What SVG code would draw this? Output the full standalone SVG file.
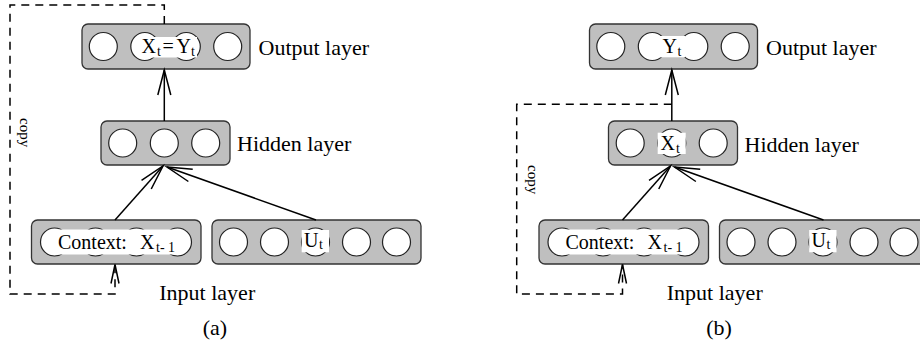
<svg xmlns="http://www.w3.org/2000/svg" width="920" height="345" viewBox="0 0 920 345">
<style>
.box{fill:#bfbfbf;stroke:#333;stroke-width:1.3}
.c{fill:#fff;stroke:#222;stroke-width:1.2}
.w{fill:#fff;stroke:none}
.lab{font-family:"Liberation Serif",serif;font-size:22px;fill:#000}
.t{font-family:"Liberation Serif",serif;font-size:20px;fill:#000}
.sub{font-size:14px}
.cp{font-family:"Liberation Serif",serif;font-size:15px;fill:#000}
.ln{fill:none;stroke:#000;stroke-width:1.5}
.dash{fill:none;stroke:#000;stroke-width:1.5;stroke-dasharray:8 6}
</style>
<defs>
<marker id="ah" markerUnits="userSpaceOnUse" markerWidth="30" markerHeight="20" viewBox="-27 -10 30 20" refX="0" refY="0" orient="auto" overflow="visible">
<path d="M-25,-6.5 L0,0 L-25,6.5" fill="none" stroke="#000" stroke-width="1.5"/>
</marker>
<marker id="ahs" markerUnits="userSpaceOnUse" markerWidth="24" markerHeight="12" viewBox="-21 -6 24 12" refX="0" refY="0" orient="auto" overflow="visible">
<path d="M-19,-4 L0,0 L-19,4" fill="none" stroke="#000" stroke-width="1.5" stroke-dasharray="none"/>
</marker>
</defs>

<!-- Panel (a) -->
<g id="output-a">
<rect class="box" x="82" y="24" width="168" height="45" rx="6"/>
<circle class="c" cx="103.3" cy="46.5" r="14"/>
<circle class="c" cx="144.8" cy="46.5" r="14"/>
<circle class="c" cx="186.3" cy="46.5" r="14"/>
<circle class="c" cx="227.7" cy="46.5" r="14"/>
<rect class="w" x="140" y="37" width="57" height="20.5"/>
<text class="t" font-size="21" y="53"><tspan x="141.5">X</tspan><tspan class="sub" x="157" dy="3">t</tspan><tspan x="162.5" dy="-3">=</tspan><tspan x="176.5">Y</tspan><tspan class="sub" x="191" dy="3">t</tspan></text>
</g>
<g id="hidden-a">
<rect class="box" x="101" y="121" width="129" height="44" rx="6"/>
<circle class="c" cx="122.7" cy="143" r="14"/>
<circle class="c" cx="164.3" cy="143" r="14"/>
<circle class="c" cx="205.7" cy="143" r="14"/>
</g>
<g id="context-a">
<rect class="box" x="31.5" y="220" width="169.5" height="44" rx="6"/>
<circle class="c" cx="54.5" cy="242" r="14"/>
<circle class="c" cx="95.5" cy="242" r="14"/>
<circle class="c" cx="136.5" cy="242" r="14"/>
<circle class="c" cx="177.5" cy="242" r="14"/>
<rect class="w" x="52" y="229.5" width="129" height="25"/>
<text class="t" x="58" y="248.5">Context:</text>
<text class="t" y="248.5"><tspan x="140">X</tspan><tspan class="sub" font-size="15" x="156" dy="3.5">t- 1</tspan></text>
</g>
<g id="input-u-a">
<rect class="box" x="212" y="220" width="209" height="44" rx="6"/>
<circle class="c" cx="233.5" cy="242" r="14"/>
<circle class="c" cx="274.5" cy="242" r="14"/>
<circle class="c" cx="315.5" cy="242" r="14"/>
<circle class="c" cx="356.5" cy="242" r="14"/>
<circle class="c" cx="396.5" cy="242" r="14"/>
<rect class="w" x="301.7" y="230" width="27.3" height="22.3"/>
<text class="t" y="247"><tspan x="304">U</tspan><tspan class="sub" font-size="15" x="319" dy="1.5">t</tspan></text>
</g>
<g id="labels-a">
<text class="lab" x="258.5" y="55">Output layer</text>
<text class="lab" x="237" y="151">Hidden layer</text>
<text class="lab" x="159.3" y="300">Input layer</text>
<text class="lab" x="215" y="335" text-anchor="middle">(a)</text>
<text class="cp" transform="translate(19.5,118) rotate(90)">copy</text>
</g>

<!-- Panel (b) -->
<g id="output-b" transform="translate(507.5,0)">
<rect class="box" x="82" y="24" width="168" height="45" rx="6"/>
<circle class="c" cx="103.3" cy="46.5" r="14"/>
<circle class="c" cx="144.8" cy="46.5" r="14"/>
<circle class="c" cx="186.3" cy="46.5" r="14"/>
<circle class="c" cx="227.7" cy="46.5" r="14"/>
<rect class="w" x="152.5" y="36" width="25" height="21.3"/>
<text class="t" font-size="21" y="53.3"><tspan x="155">Y</tspan><tspan class="sub" x="170" dy="3">t</tspan></text>
</g>
<g id="hidden-b" transform="translate(507.5,0)">
<rect class="box" x="101" y="121" width="129" height="44" rx="6"/>
<circle class="c" cx="122.7" cy="143" r="14"/>
<circle class="c" cx="164.3" cy="143" r="14"/>
<circle class="c" cx="205.7" cy="143" r="14"/>
<rect class="w" x="150.2" y="132.7" width="28" height="21.3"/>
<text class="t" font-size="21" y="150"><tspan x="153">X</tspan><tspan class="sub" x="168.5" dy="3">t</tspan></text>
</g>
<g id="context-b" transform="translate(507.5,0)">
<rect class="box" x="31.5" y="220" width="169.5" height="44" rx="6"/>
<circle class="c" cx="54.5" cy="242" r="14"/>
<circle class="c" cx="95.5" cy="242" r="14"/>
<circle class="c" cx="136.5" cy="242" r="14"/>
<circle class="c" cx="177.5" cy="242" r="14"/>
<rect class="w" x="52" y="229.5" width="129" height="25"/>
<text class="t" x="58" y="248.5">Context:</text>
<text class="t" y="248.5"><tspan x="140">X</tspan><tspan class="sub" font-size="15" x="156" dy="3.5">t- 1</tspan></text>
</g>
<g id="input-u-b" transform="translate(507.5,0)">
<rect class="box" x="212" y="220" width="209" height="44" rx="6"/>
<circle class="c" cx="233.5" cy="242" r="14"/>
<circle class="c" cx="274.5" cy="242" r="14"/>
<circle class="c" cx="315.5" cy="242" r="14"/>
<circle class="c" cx="356.5" cy="242" r="14"/>
<circle class="c" cx="396.5" cy="242" r="14"/>
<rect class="w" x="301.7" y="230" width="27.3" height="22.3"/>
<text class="t" y="247"><tspan x="304">U</tspan><tspan class="sub" font-size="15" x="319" dy="1.5">t</tspan></text>
</g>
<g id="labels-b">
<text class="lab" x="766" y="55">Output layer</text>
<text class="lab" x="744.5" y="151.5">Hidden layer</text>
<text class="lab" x="666.8" y="300">Input layer</text>
<text class="lab" x="719" y="335" text-anchor="middle">(b)</text>
<text class="cp" transform="translate(528,165) rotate(90)">copy</text>
</g>

<g id="connectors">
<line class="ln" x1="164.3" y1="121" x2="164.3" y2="70" marker-end="url(#ah)"/>
<line class="ln" x1="115" y1="220" x2="163" y2="166" marker-end="url(#ah)"/>
<line class="ln" x1="316" y1="220" x2="167" y2="167" marker-end="url(#ah)"/>
<path class="dash" d="M164.3,24 V5 H10 V294 H115 V264.5" marker-end="url(#ahs)"/>
<line class="ln" x1="671.8" y1="121" x2="671.8" y2="70" marker-end="url(#ah)"/>
<line class="ln" x1="622.5" y1="220" x2="670.5" y2="166" marker-end="url(#ah)"/>
<line class="ln" x1="823.5" y1="220" x2="674.5" y2="167" marker-end="url(#ah)"/>
<path class="dash" d="M671.8,104.3 H516.7 V294 H622.5 V264.5" marker-end="url(#ahs)"/>
</g>
</svg>
